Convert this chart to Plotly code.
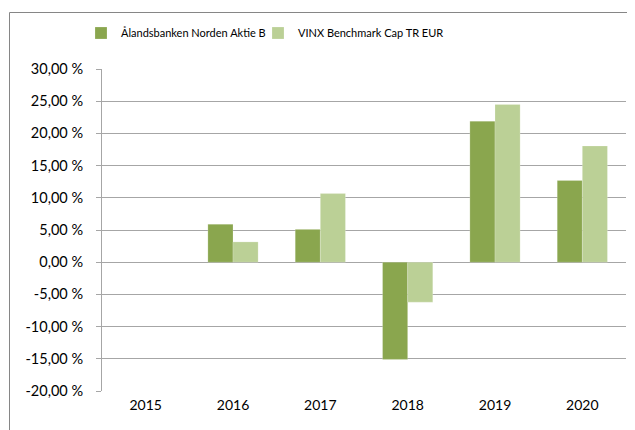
import plotly.graph_objects as go

years = ["2015", "2016", "2017", "2018", "2019", "2020"]
fund = [None, 5.9, 5.1, -15.1, 21.9, 12.7]
bench = [None, 3.15, 10.65, -6.2, 24.5, 18.05]
series_names = ["Ålandsbanken Norden Aktie B", "VINX Benchmark Cap TR EUR"]
ytick_vals = [30, 25, 20, 15, 10, 5, 0, -5, -10, -15, -20]
ytick_text = ["30,00 %", "25,00 %", "20,00 %", "15,00 %", "10,00 %", "5,00 %",
              "0,00 %", "-5,00 %", "-10,00 %", "-15,00 %", "-20,00 %"]

DARK = "#8AA64E"
LIGHT = "#BBD096"
GRID = "#A6A6A6"
FONT = "Lato"

fig = go.Figure()
fig.add_trace(go.Bar(x=years, y=fund, name=series_names[0], marker_color=DARK,
                     marker_line=dict(color="rgba(255,255,255,0.4)", width=0.5)))
fig.add_trace(go.Bar(x=years, y=bench, name=series_names[1], marker_color=LIGHT,
                     marker_line=dict(color="rgba(255,255,255,0.4)", width=0.5)))
# invisible spacer legend entry so the last legend label is not clipped
fig.add_trace(go.Scatter(x=[None], y=[None], name=" ", mode="markers",
                         marker=dict(color="rgba(0,0,0,0)", size=1),
                         hoverinfo="skip"))

# the page body has an 8px margin, so the figure is drawn offset by 8px
OFF = 8
W, H = 635 - OFF, 430 - OFF
L, R, T, B = 102 - OFF, 9, 69 - OFF, 39
pw = W - L - R
ph = H - T - B

fig.update_layout(
    width=W, height=H,
    margin=dict(l=L, r=R, t=T, b=B, autoexpand=False),
    paper_bgcolor="white", plot_bgcolor="white",
    barmode="group", bargap=0.425, bargroupgap=0,
    font=dict(family=FONT, size=14, color="#000000"),
    legend=dict(orientation="h", x=(73 - L) / pw, xanchor="left",
                y=(H - B - 25) / ph, yanchor="middle",
                font=dict(size=11, family=FONT), itemwidth=30,
                entrywidth=132,
                bgcolor="rgba(0,0,0,0)"),
    xaxis=dict(type="category", showgrid=False, showline=False, ticks="",
               tickfont=dict(size=14, family=FONT), ticklabelstandoff=4,
               automargin=False),
    yaxis=dict(range=[-20, 30], tickvals=ytick_vals, ticktext=ytick_text,
               showgrid=True, gridcolor=GRID, gridwidth=1,
               showline=True, linecolor=GRID, linewidth=1,
               ticks="outside", ticklen=5, tickcolor=GRID,
               zeroline=False, tickfont=dict(size=14.5, family=FONT),
               ticklabelstandoff=10, automargin=False),
    xaxis2=dict(overlaying="x", anchor="free", position=20 / 50,
                range=[-0.5, 5.5], tickvals=[i - 0.5 for i in range(len(years) + 1)],
                showticklabels=False, ticks="outside", ticklen=5, tickcolor=GRID,
                showline=True, linecolor=GRID, linewidth=1, showgrid=False,
                zeroline=False, side="bottom", automargin=False),
    shapes=[dict(type="rect", xref="paper", yref="paper",
                 x0=(1.5 - L) / pw, x1=(W + 20 - L) / pw,
                 y0=(H - B - (H + 20)) / ph, y1=(H - B - 4.5) / ph,
                 line=dict(color="#868686", width=1), fillcolor="rgba(0,0,0,0)",
                 layer="below")],
)

fig.write_html("out.html")
